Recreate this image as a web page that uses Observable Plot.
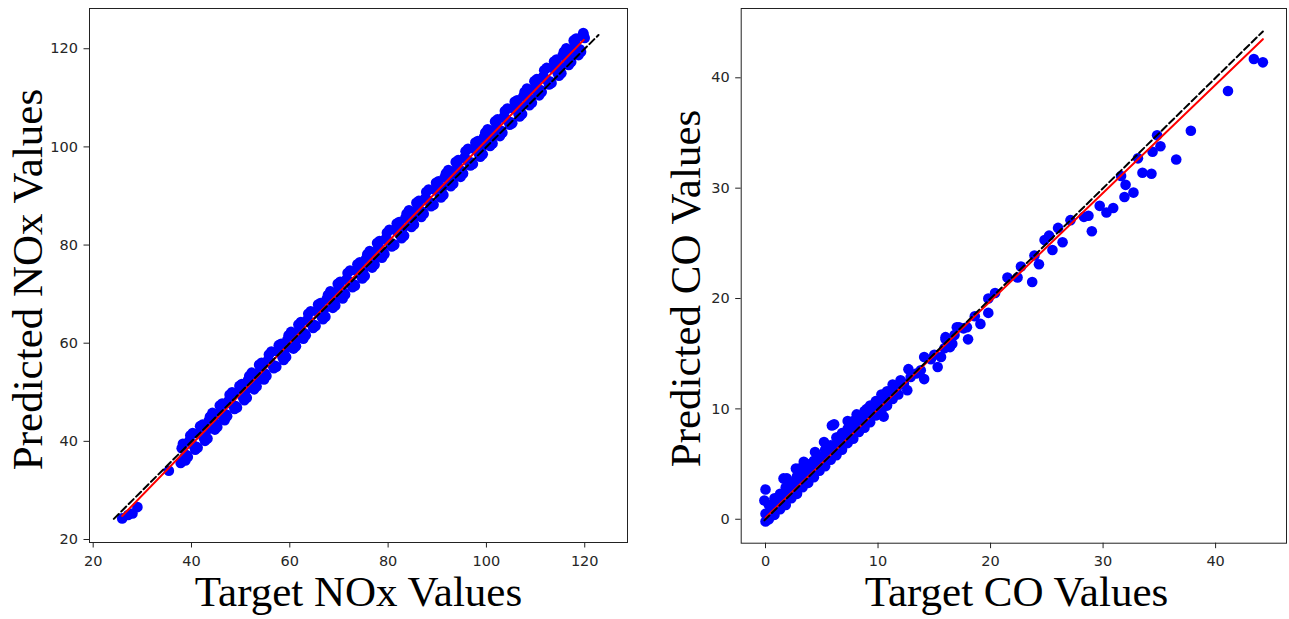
<!DOCTYPE html>
<html><head><meta charset="utf-8">
<script src="https://cdn.jsdelivr.net/npm/d3@7"></script>
<script src="https://cdn.jsdelivr.net/npm/@observablehq/plot@0.6"></script>
<style>
html,body{margin:0;padding:0;background:#fff;overflow:hidden;}
#wrap{position:relative;width:1289px;height:619px;}
#wrap svg{position:absolute;top:0;}
</style></head><body><div id="wrap"></div>
<script>
// ---- NOx panel data ----
const noxTarget = [
  25.9, 27.1, 28.0, 29.0, 35.4, 37.8,
  38, 38.5, 39, 39.5, 40, 40.5, 41, 41.5, 42, 42.5, 43, 43.5, 44, 44.5, 45, 45.5, 46, 46.5, 47, 47.5,
  48, 48.5, 49, 49.5, 50, 50.5, 51, 51.5, 52, 52.5, 53, 53.5, 54, 54.5, 55, 55.5, 56, 56.5, 57, 57.5,
  58, 58.5, 59, 59.5, 60, 60.5, 61, 61.5, 62, 62.5, 63, 63.5, 64, 64.5, 65, 65.5, 66, 66.5, 67, 67.5,
  68, 68.5, 69, 69.5, 70, 70.5, 71, 71.5, 72, 72.5, 73, 73.5, 74, 74.5, 75, 75.5, 76, 76.5, 77, 77.5,
  78, 78.5, 79, 79.5, 80, 80.5, 81, 81.5, 82, 82.5, 83, 83.5, 84, 84.5, 85, 85.5, 86, 86.5, 87, 87.5,
  88, 88.5, 89, 89.5, 90, 90.5, 91, 91.5, 92, 92.5, 93, 93.5, 94, 94.5, 95, 95.5, 96, 96.5, 97, 97.5,
  98, 98.5, 99, 99.5, 100, 100.5, 101, 101.5, 102, 102.5, 103, 103.5, 104, 104.5, 105, 105.5, 106, 106.5, 107, 107.5,
  108, 108.5, 109, 109.5, 110, 110.5, 111, 111.5, 112, 112.5, 113, 113.5, 114, 114.5, 115, 115.5, 116, 116.5, 117, 117.5,
  118, 118.5, 119, 119.5, 120, 119.7
];
const noxPred = [
  24.3, 25.0, 25.3, 26.6, 34.0, 35.6,
  38.6, 36.6, 37.2, 40.0, 39.6, 39.0, 38.9, 41.7, 42.4, 40.7, 42.1, 44.2, 45.1, 43.4, 43.6, 45.6, 46.9, 44.9, 45.5, 48.2,
  47.8, 47.3, 47.2, 50.0, 50.7, 48.9, 50.3, 52.5, 53.4, 51.7, 51.9, 53.8, 55.1, 53.2, 53.8, 56.5, 56.1, 55.5, 55.4, 58.3,
  59.0, 57.2, 58.6, 60.7, 61.6, 59.9, 60.2, 62.1, 63.4, 61.4, 62.0, 64.7, 64.4, 63.8, 63.7, 66.5, 67.2, 65.4, 66.9, 69.0,
  69.9, 68.2, 68.4, 70.3, 71.7, 69.7, 70.3, 73.0, 72.6, 72.0, 72.0, 74.8, 75.5, 73.7, 75.1, 77.2, 78.2, 76.5, 76.7, 78.6,
  79.9, 77.9, 78.6, 81.3, 80.9, 80.3, 80.2, 83.0, 83.8, 82.0, 83.4, 85.5, 86.4, 84.7, 85.0, 86.9, 88.2, 86.2, 86.8, 89.5,
  89.2, 88.6, 88.5, 91.3, 92.0, 90.2, 91.7, 93.8, 94.7, 93.0, 93.2, 95.1, 96.5, 94.5, 95.1, 97.8, 97.4, 96.8, 96.8, 99.6,
  100.3, 98.5, 99.9, 102.0, 103.0, 101.3, 101.5, 103.4, 104.7, 102.7, 103.3, 106.1, 105.7, 105.1, 105.0, 107.8, 108.5, 106.8, 108.2, 110.3,
  111.2, 109.5, 109.7, 111.7, 113.0, 111.0, 111.6, 114.3, 113.9, 113.4, 113.3, 116.1, 116.8, 115.0, 116.4, 118.6, 119.5, 117.8, 118.0, 119.9,
  121.2, 119.3, 119.9, 122.6, 122.2, 123.2
];
// points at the edges of the dense NOx band
const noxTargetEdge = [
  38.25, 38.75, 39.25, 39.75, 40.25, 40.75, 41.25, 41.75, 42.25, 42.75, 43.25, 43.75, 44.25, 44.75, 45.25, 45.75, 46.25, 46.75, 47.25, 47.75,
  48.25, 48.75, 49.25, 49.75, 50.25, 50.75, 51.25, 51.75, 52.25, 52.75, 53.25, 53.75, 54.25, 54.75, 55.25, 55.75, 56.25, 56.75, 57.25, 57.75,
  58.25, 58.75, 59.25, 59.75, 60.25, 60.75, 61.25, 61.75, 62.25, 62.75, 63.25, 63.75, 64.25, 64.75, 65.25, 65.75, 66.25, 66.75, 67.25, 67.75,
  68.25, 68.75, 69.25, 69.75, 70.25, 70.75, 71.25, 71.75, 72.25, 72.75, 73.25, 73.75, 74.25, 74.75, 75.25, 75.75, 76.25, 76.75, 77.25, 77.75,
  78.25, 78.75, 79.25, 79.75, 80.25, 80.75, 81.25, 81.75, 82.25, 82.75, 83.25, 83.75, 84.25, 84.75, 85.25, 85.75, 86.25, 86.75, 87.25, 87.75,
  88.25, 88.75, 89.25, 89.75, 90.25, 90.75, 91.25, 91.75, 92.25, 92.75, 93.25, 93.75, 94.25, 94.75, 95.25, 95.75, 96.25, 96.75, 97.25, 97.75,
  98.25, 98.75, 99.25, 99.75, 100.25, 100.75, 101.25, 101.75, 102.25, 102.75, 103.25, 103.75, 104.25, 104.75, 105.25, 105.75, 106.25, 106.75, 107.25, 107.75,
  108.25, 108.75, 109.25, 109.75, 110.25, 110.75, 111.25, 111.75, 112.25, 112.75, 113.25, 113.75, 114.25, 114.75, 115.25, 115.75, 116.25, 116.75, 117.25, 117.75,
  118.25, 118.75, 119.25, 119.75
];
const noxPredEdge = [
  39.5, 36.1, 36.8, 41.2, 41.7, 38.3, 38.7, 43.1, 43.4, 40.1, 40.6, 45.0, 45.8, 42.4, 42.9, 47.3, 47.7, 44.3, 45.1, 49.5,
  50.0, 46.6, 46.9, 51.3, 51.7, 48.4, 48.9, 53.3, 54.0, 50.6, 51.2, 55.6, 56.0, 52.6, 53.3, 57.7, 58.3, 54.9, 55.2, 59.6,
  59.9, 56.6, 57.2, 61.6, 62.3, 58.9, 59.4, 63.8, 64.3, 60.9, 61.6, 66.0, 66.5, 63.1, 63.5, 67.9, 68.2, 64.9, 65.4, 69.8,
  70.6, 67.2, 67.7, 72.1, 72.5, 69.1, 69.9, 74.3, 74.8, 71.4, 71.7, 76.1, 76.5, 73.2, 73.7, 78.1, 78.8, 75.4, 76.0, 80.4,
  80.8, 77.4, 78.1, 82.5, 83.1, 79.7, 80.0, 84.4, 84.7, 81.4, 81.9, 86.4, 87.1, 83.7, 84.2, 88.6, 89.0, 85.7, 86.4, 90.8,
  91.3, 87.9, 88.2, 92.7, 93.0, 89.7, 90.2, 94.6, 95.3, 92.0, 92.5, 96.9, 97.3, 93.9, 94.6, 99.1, 99.6, 96.2, 96.5, 100.9,
  101.2, 98.0, 98.5, 102.9, 103.6, 100.2, 100.7, 105.2, 105.6, 102.2, 102.9, 107.3, 107.8, 104.5, 104.8, 109.2, 109.5, 106.2, 106.7, 111.2,
  111.9, 108.5, 109.0, 113.4, 113.8, 110.5, 111.2, 115.6, 116.1, 112.7, 113.0, 117.4, 117.8, 114.5, 115.0, 119.4, 120.1, 116.7, 117.3, 121.7,
  122.1, 118.7, 119.4, 122.9
];
const noxFitX = [25.9, 119.8];
const noxFitY = [24.8, 121.8];
const noxIdeal = [24.2, 122.8];
const noxTicks = [20, 40, 60, 80, 100, 120];

// ---- CO panel data ----
const coTarget = [
  0.0, 0.3, 0.8, 1.3, 1.8, 2.3, 2.8, 3.3, 3.8, 4.3, 4.8, 5.3, 5.8, 6.3, 6.8, 7.3, 7.8, 8.3, 8.8, 9.3, 9.8, 10.3, 10.8, 11.3, 11.8,
  0.0, 0.5, 1.0, 1.5, 2.0, 2.5, 3.0, 3.5, 4.0, 4.5, 5.0, 5.5, 6.0, 6.5, 7.0, 7.5, 8.0, 8.5, 9.0, 9.5, 10.0, 10.5, 11.0, 11.5, 12.0,
  0.3, 0.8, 1.3, 1.8, 2.3, 2.8, 3.3, 3.8, 4.3, 4.8, 5.3, 5.8, 6.3, 6.8, 7.3, 7.8, 8.3, 8.8, 9.3, 9.8, 10.3, 10.8, 11.3,
  0.0, -0.1, 1.6, 1.9, 2.7, 3.0, 3.4, 3.7, 4.4, 5.2, 5.9, 6.1, 6.4, 7.3, 8.1, 9.0, 9.3, 10.5, 10.5, 10.8, 11.6, 12.0, 12.3, 12.6,
  12.7, 12.9, 13.4, 13.8, 14.1, 14.1, 14.7, 15.0, 15.3, 15.6, 15.9, 16.0, 16.0, 16.4, 16.6, 16.8, 17.0, 17.2, 17.6, 17.9, 18.0, 18.6,
  19.1, 19.8, 19.8, 20.4, 21.5, 22.4, 22.7, 23.7, 23.9, 24.3, 24.8, 25.2, 25.5, 26.0, 26.4, 27.1, 28.3, 28.7, 29.0, 29.7,
  30.3, 30.9, 31.6, 32.0, 31.9, 32.7, 33.1, 33.5, 34.3, 34.4, 35.1, 34.8, 36.5, 37.8, 41.1, 43.4, 44.2
];
const coPred = [
  -0.2, 0.0, 0.4, 0.9, 1.3, 1.9, 2.3, 2.9, 3.3, 3.8, 4.4, 4.8, 5.4, 5.8, 6.3, 6.9, 7.3, 7.9, 8.3, 8.8, 9.4, 9.8, 10.3, 10.9, 11.3,
  0.5, 0.8, 1.4, 1.8, 2.4, 2.7, 3.4, 3.8, 4.3, 4.9, 5.2, 5.9, 6.2, 6.9, 7.2, 7.8, 8.4, 8.7, 9.4, 9.7, 10.3, 10.9, 11.2, 11.8, 12.2,
  1.3, 1.9, 2.3, 2.9, 3.3, 3.9, 4.2, 4.8, 5.3, 5.7, 6.3, 6.7, 7.4, 7.8, 8.2, 8.9, 9.2, 9.8, 10.3, 10.7, 11.3, 11.6, 12.2,
  2.7, 1.7, 3.7, 3.7, 4.6, 4.6, 5.2, 5.0, 6.1, 7.0, 8.5, 8.6, 7.4, 8.9, 9.5, 10.0, 10.1, 9.3, 10.5, 11.1, 11.7, 12.6, 12.3, 11.7,
  13.6, 12.9, 13.2, 13.5, 12.7, 14.7, 14.5, 14.9, 13.8, 14.7, 15.5, 16.5, 16.3, 15.6, 15.9, 16.7, 17.4, 17.4, 17.3, 17.4, 16.3, 18.4,
  17.7, 18.7, 20.0, 20.5, 21.9, 21.9, 22.9, 21.5, 23.9, 23.1, 25.3, 25.7, 24.4, 26.4, 25.1, 27.1, 27.4, 27.5, 26.1, 28.4,
  27.8, 28.2, 31.1, 30.3, 29.2, 29.6, 32.7, 31.4, 31.3, 33.3, 33.8, 34.8, 32.6, 35.2, 38.8, 41.7, 41.4
];
const coFitX = [0.0, 44.2];
const coFitY = [0.15, 43.5];
const coIdeal = [-0.1, 44.2];
const coTicks = [0, 10, 20, 30, 40];

function panel(o) {
  const pts = o.target.map((x, i) => ({x, y: o.pred[i]}));
  const fit = o.fitX.map((x, i) => ({x, y: o.fitY[i]}));
  const ideal = o.ideal.map(v => ({x: v, y: v}));
  return Plot.plot({
    width: o.width, height: 619,
    marginLeft: o.ml, marginRight: o.mr, marginTop: 8, marginBottom: o.mb,
    style: {fontFamily: "DejaVu Sans", fontSize: "14px", color: "#222", background: "white", overflow: "visible"},
    x: {domain: o.xDomain, inset: 0, label: null},
    y: {domain: o.yDomain, inset: 0, label: null},
    marks: [
      Plot.dot(pts, {x: "x", y: "y", r: 5.3, fill: "#0000ff", stroke: "none"}),
      Plot.line(fit, {x: "x", y: "y", stroke: "#ff0000", strokeWidth: 2}),
      Plot.line(ideal, {x: "x", y: "y", stroke: "#000", strokeWidth: 2, strokeDasharray: "7,3.5"}),
      Plot.frame({stroke: "#222", strokeWidth: 1}),
      Plot.axisX({ticks: o.ticks, tickSize: 5.5, tickPadding: 7.5, fontSize: 14.5, label: null, fill: "#262626"}),
      Plot.axisY({ticks: o.ticks, tickSize: 5.5, tickPadding: 6, fontSize: 14.5, label: null, fill: "#262626"}),
      Plot.text([o.xLabel], {text: d => d, frameAnchor: "bottom", textAnchor: "middle", lineAnchor: "middle",
        dx: o.xLabelDx, dy: o.xLabelDy, fontSize: 43, fontFamily: "Liberation Serif", fill: "#000"}),
      Plot.text([o.yLabel], {text: d => d, frameAnchor: "left", textAnchor: "middle", lineAnchor: "middle", rotate: -90,
        dx: o.yLabelDx, dy: o.yLabelDy, fontSize: 43, fontFamily: "Liberation Serif", fill: "#000"})
    ]
  });
}

const wrap = document.getElementById("wrap");
const left = panel({
  target: noxTarget.concat(noxTargetEdge), pred: noxPred.concat(noxPredEdge),
  fitX: noxFitX, fitY: noxFitY, ideal: noxIdeal, ticks: noxTicks,
  xDomain: [19.25, 128.7], yDomain: [19.39, 128.2],
  width: 640, ml: 89, mr: 13, mb: 77,
  xLabel: "Target NOx Values", yLabel: "Predicted NOx Values",
  xLabelDx: 0, xLabelDy: 49.4, yLabelDx: -61.1, yLabelDy: 4
});
left.style.left = "0px";
const right = panel({
  target: coTarget, pred: coPred, fitX: coFitX, fitY: coFitY, ideal: coIdeal, ticks: coTicks,
  xDomain: [-2.16, 46.3], yDomain: [-2.17, 46.28],
  width: 644, ml: 95.7, mr: 3, mb: 76.3,
  xLabel: "Target CO Values", yLabel: "Predicted CO Values",
  xLabelDx: 2.6, xLabelDy: 48.7, yLabelDx: -54.5, yLabelDy: 12.7
});
right.style.left = "645px";
wrap.appendChild(left);
wrap.appendChild(right);
</script>
</body></html>
